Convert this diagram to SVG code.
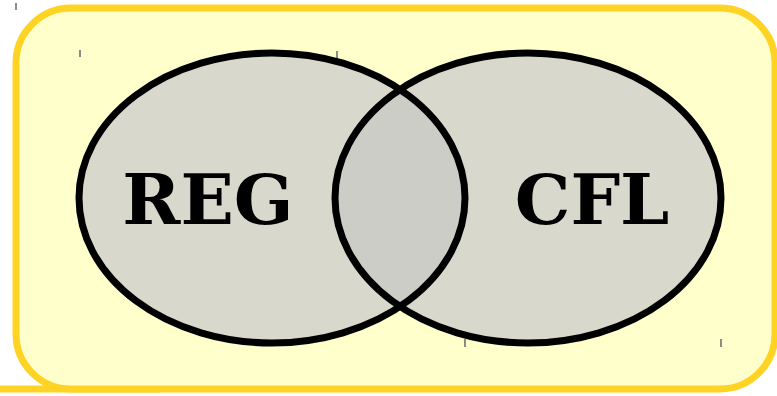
<svg xmlns="http://www.w3.org/2000/svg" width="777" height="396" viewBox="0 0 777 396">
<style>
.lbl{font-family:"DejaVu Serif",serif;font-weight:bold;font-size:70px;fill:#000}
.tick{stroke:#666;stroke-width:1.5}
.set{fill:#d8d8cc;stroke:none}
.ring{fill:none;stroke:#000;stroke-width:7}
</style>
<defs>
<clipPath id="clipL"><ellipse cx="272" cy="198" rx="193" ry="145"/></clipPath>
</defs>
<rect width="777" height="396" fill="#fff"/>
<g id="frame">
<line x1="0" y1="389" x2="160" y2="389" stroke="#ffd324" stroke-width="7"/>
<rect x="16" y="8" width="759" height="381" rx="55" ry="55" fill="#ffffcc" stroke="#ffd324" stroke-width="7"/>
</g>
<g id="ticks">
<line class="tick" x1="16" y1="3" x2="16" y2="10"/>
<line class="tick" x1="80" y1="50" x2="80" y2="57"/>
<line class="tick" x1="337" y1="51" x2="337" y2="58"/>
<line class="tick" x1="465" y1="339" x2="465" y2="347"/>
<line class="tick" x1="721" y1="339" x2="721" y2="347"/>
</g>
<g id="REG"><ellipse class="set" cx="272" cy="198" rx="193" ry="145"/></g>
<g id="CFL"><ellipse class="set" cx="528" cy="198" rx="193" ry="145"/></g>
<g id="intersection"><ellipse cx="528" cy="198" rx="193" ry="145" fill="#cdcdc7" clip-path="url(#clipL)"/></g>
<g id="outlines">
<ellipse class="ring" cx="272" cy="198" rx="193" ry="145"/>
<ellipse class="ring" cx="528" cy="198" rx="193" ry="145"/>
</g>
<g id="labels">
<text class="lbl" x="208" y="224" text-anchor="middle">REG</text>
<text class="lbl" x="592" y="224" text-anchor="middle">CFL</text>
</g>
</svg>
